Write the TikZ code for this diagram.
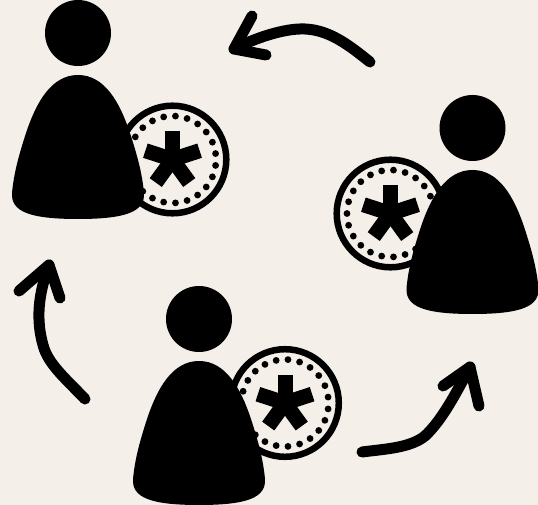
\documentclass[tikz,border=0pt]{standalone}
\usepackage{xcolor}
\usetikzlibrary{calc}
\definecolor{paper}{RGB}{244,239,232}
\newcommand{\drawcoin}[2]{%
  \draw[line width=6.5,fill=paper] (#1,#2) circle (53.8);
  \foreach \a in {0,...,22}
    \fill ($(#1,#2)+({7.826+360/23*\a}:43.5)$) circle (3.4);
  \foreach \a in {90,162,234,306,18}
    \draw[line width=15] (#1,#2) -- ($(#1,#2)+(\a:-28.5)$);
}
\newcommand{\drawperson}[2]{%
  \fill (#1,#2) circle (33);
  \fill[shift={(#1,#2)}]
    (0,42) .. controls (-27,42) and (-42,70) .. (-52,100)
    .. controls (-60,125) and (-64,140) .. (-66,160)
    .. controls (-67,178) and (-50,186) .. (0,186)
    .. controls (50,186) and (67,178) .. (66,160)
    .. controls (64,140) and (60,125) .. (52,100)
    .. controls (42,70) and (27,42) .. (0,42) -- cycle;
}
\begin{document}
\begin{tikzpicture}[x=1pt,y=-1pt,arrowline/.style={line width=11,line cap=round,line join=round}]
  \useasboundingbox (0,0) rectangle (538,505);
  \fill[paper] (0,0) rectangle (538,505);
  % --- People ---
  \drawcoin{172.5}{159.5}
  \drawperson{78}{33}
  \drawcoin{390.5}{213.5}
  \drawperson{472.5}{128}
  \drawcoin{285}{403}
  \drawperson{199}{319}
  % --- Arrows ---
  \coordinate (toptail) at (370,62);
  \coordinate (toptip) at (234,49);
  \coordinate (lefttail) at (85,399);
  \coordinate (lefttip) at (49,265);
  \coordinate (righttail) at (362,452);
  \coordinate (righttip) at (470,367);
  \draw[arrowline] (toptail) .. controls (350,46) and (330,30) .. (305,29)
    .. controls (285,28) and (255,38) .. (toptip);
  \draw[arrowline] (252,16) -- (toptip) -- (266,55);
  \draw[arrowline] (lefttail) .. controls (65,378) and (48,364) .. (43,345)
    .. controls (36,320) and (38,295) .. (lefttip);
  \draw[arrowline] (19,291) -- (lefttip) -- (60,298);
  \draw[arrowline] (righttail) .. controls (385,449) and (410,448) .. (425,436)
    .. controls (442,420) and (455,395) .. (righttip);
  \draw[arrowline] (443,386) -- (righttip) -- (479,406);
\end{tikzpicture}
\end{document}
